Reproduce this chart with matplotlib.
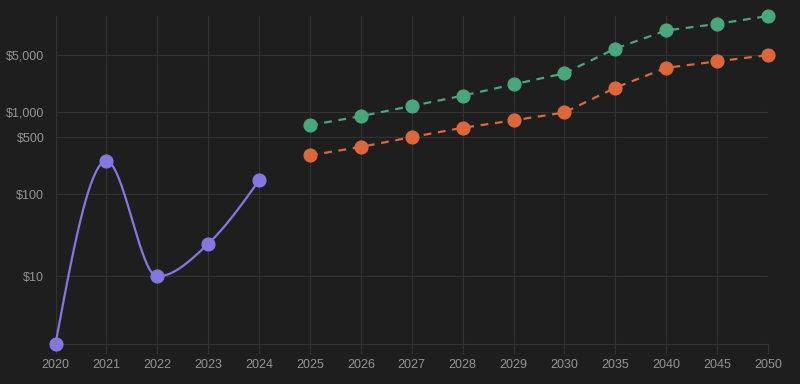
import numpy as np
import matplotlib
matplotlib.use("Agg")
import matplotlib.pyplot as plt
from matplotlib.ticker import FixedLocator, FixedFormatter, NullLocator

years = ["2020", "2021", "2022", "2023", "2024", "2025", "2026", "2027", "2028",
         "2029", "2030", "2035", "2040", "2045", "2050"]
hist_values = [1.5, 255, 10, 25, 148]
high_values = [700, 900, 1200, 1600, 2200, 3000, 6000, 10000, 12000, 15000]
low_values = [300, 380, 500, 650, 800, 1000, 2000, 3500, 4200, 5000]
ytick_values = [10, 100, 500, 1000, 5000]
ytick_labels = ["$10", "$100", "$500", "$1,000", "$5,000"]

BG = "#1e1e1e"
GRID = "#333333"
TEXT = "#959595"
PURPLE = "#8478e0"
GREEN = "#4aa77c"
ORANGE = "#dc673d"


def monotone_curve(xs, ys, n=40):
    xs = np.asarray(xs, float)
    ys = np.asarray(ys, float)
    h = np.diff(xs)
    s = np.diff(ys) / h
    m = np.zeros_like(ys)
    for i in range(1, len(ys) - 1):
        s0, s1 = s[i - 1], s[i]
        p = (s0 * h[i] + s1 * h[i - 1]) / (h[i - 1] + h[i])
        m[i] = (np.sign(s0) + np.sign(s1)) * min(abs(s0), abs(s1), 0.5 * abs(p))
    m[0] = (3 * s[0] - m[1]) / 2
    m[-1] = (3 * s[-1] - m[-2]) / 2
    out_x, out_y = [], []
    for i in range(len(xs) - 1):
        t = np.linspace(0, 1, n)
        h00 = 2 * t**3 - 3 * t**2 + 1
        h10 = t**3 - 2 * t**2 + t
        h01 = -2 * t**3 + 3 * t**2
        h11 = t**3 - t**2
        yy = h00 * ys[i] + h10 * h[i] * m[i] + h01 * ys[i + 1] + h11 * h[i] * m[i + 1]
        out_x.append(xs[i] + t * h[i])
        out_y.append(yy)
    return np.concatenate(out_x), np.concatenate(out_y)


fig = plt.figure(figsize=(8, 3.84), dpi=100, facecolor=BG)
ax = fig.add_axes([55.5 / 800, 1 - 344 / 384, (768 - 55.5) / 800, (344 - 16) / 384])
ax.set_facecolor(BG)

x_all = np.arange(len(years))
x_hist = x_all[:len(hist_values)]
x_fut = x_all[len(hist_values):]

MS = 9.2
cx, cy = monotone_curve(x_hist, np.log10(hist_values))
ax.plot(cx, 10 ** cy, color=PURPLE, lw=1.6, zorder=3, clip_on=False)
ax.plot(x_hist, hist_values, "o", color=PURPLE, ms=MS, zorder=4, clip_on=False)

ax.plot(x_fut, high_values, color=GREEN, lw=1.6, ls=(0, (3.5, 3)), zorder=3, clip_on=False)
ax.plot(x_fut, high_values, "o", color=GREEN, ms=MS, zorder=4, clip_on=False)
ax.plot(x_fut, low_values, color=ORANGE, lw=1.6, ls=(0, (3.5, 3)), zorder=3, clip_on=False)
ax.plot(x_fut, low_values, "o", color=ORANGE, ms=MS, zorder=4, clip_on=False)

ax.set_yscale("log")
ax.set_ylim(1.5, 15000)
ax.set_xlim(0, len(years) - 1)

ax.yaxis.set_major_locator(FixedLocator(ytick_values))
ax.yaxis.set_major_formatter(FixedFormatter(ytick_labels))
ax.yaxis.set_minor_locator(NullLocator())
ax.set_xticks(x_all)
ax.set_xticklabels(years)

ax.grid(True, color=GRID, lw=0.8)
ax.set_axisbelow(True)
for side in ["top", "left", "right"]:
    ax.spines[side].set_visible(False)
ax.spines["bottom"].set_color(GRID)
ax.spines["bottom"].set_linewidth(0.8)

ax.tick_params(axis="x", length=7, width=0.8, color=GRID, pad=4,
               labelcolor=TEXT, labelsize=9)
ax.tick_params(axis="y", length=0, pad=8, labelcolor=TEXT, labelsize=9)
for lab in ax.get_xticklabels() + ax.get_yticklabels():
    lab.set_fontfamily("Liberation Sans")

fig.savefig("out.png", dpi=100, facecolor=BG)
